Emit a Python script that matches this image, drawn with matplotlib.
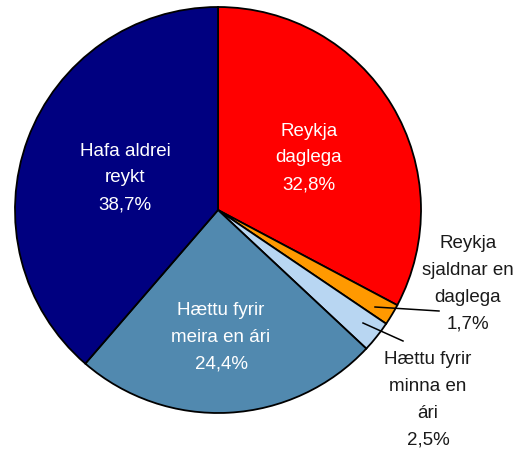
import matplotlib
matplotlib.use("Agg")
import matplotlib.pyplot as plt

labels = ["Reykja\ndaglega", "Reykja\nsjaldnar en\ndaglega", "Hættu fyrir\nminna en\nári",
          "Hættu fyrir\nmeira en ári", "Hafa aldrei\nreykt"]
values = [32.8, 1.7, 2.5, 24.4, 38.7]
pct_text = ["32,8%", "1,7%", "2,5%", "24,4%", "38,7%"]
colors = ["#FF0000", "#FF9900", "#B8D6F2", "#5189AF", "#000080"]

W, H = 524, 454
fig = plt.figure(figsize=(W / 100, H / 100), dpi=100)
ax = fig.add_axes([0, 0, 1, 1])

def Y(py):
    return H - py

cx, cy, r = 218, 210, 203
wedges, _ = ax.pie(values, colors=colors, startangle=90, counterclock=False,
                   center=(cx, Y(cy)), radius=r,
                   wedgeprops=dict(edgecolor="black", linewidth=1.3))
ax.set_xlim(0, W)
ax.set_ylim(0, H)
ax.set_aspect("auto")
ax.axis("off")

font = dict(family=["Liberation Sans", "DejaVu Sans"], fontsize=13.5, linespacing=1.75,
            ha="center", va="center", multialignment="center")

ax.text(125, Y(178), labels[4] + "\n" + pct_text[4], color="white", **font)
ax.text(309, Y(158), labels[0] + "\n" + pct_text[0], color="white", **font)
ax.text(221, Y(337), labels[3] + "\n" + pct_text[3], color="white", **font)
ax.text(468, Y(284), labels[1] + "\n" + pct_text[1], color="#1a1a1a", **font)
ax.text(428, Y(400), labels[2] + "\n" + pct_text[2], color="#1a1a1a", **font)

ax.plot([375, 439], [Y(307), Y(311)], color="black", linewidth=1.1)
ax.plot([363, 403], [Y(323), Y(341)], color="black", linewidth=1.1)

fig.savefig("out.png", dpi=100, facecolor="white")
